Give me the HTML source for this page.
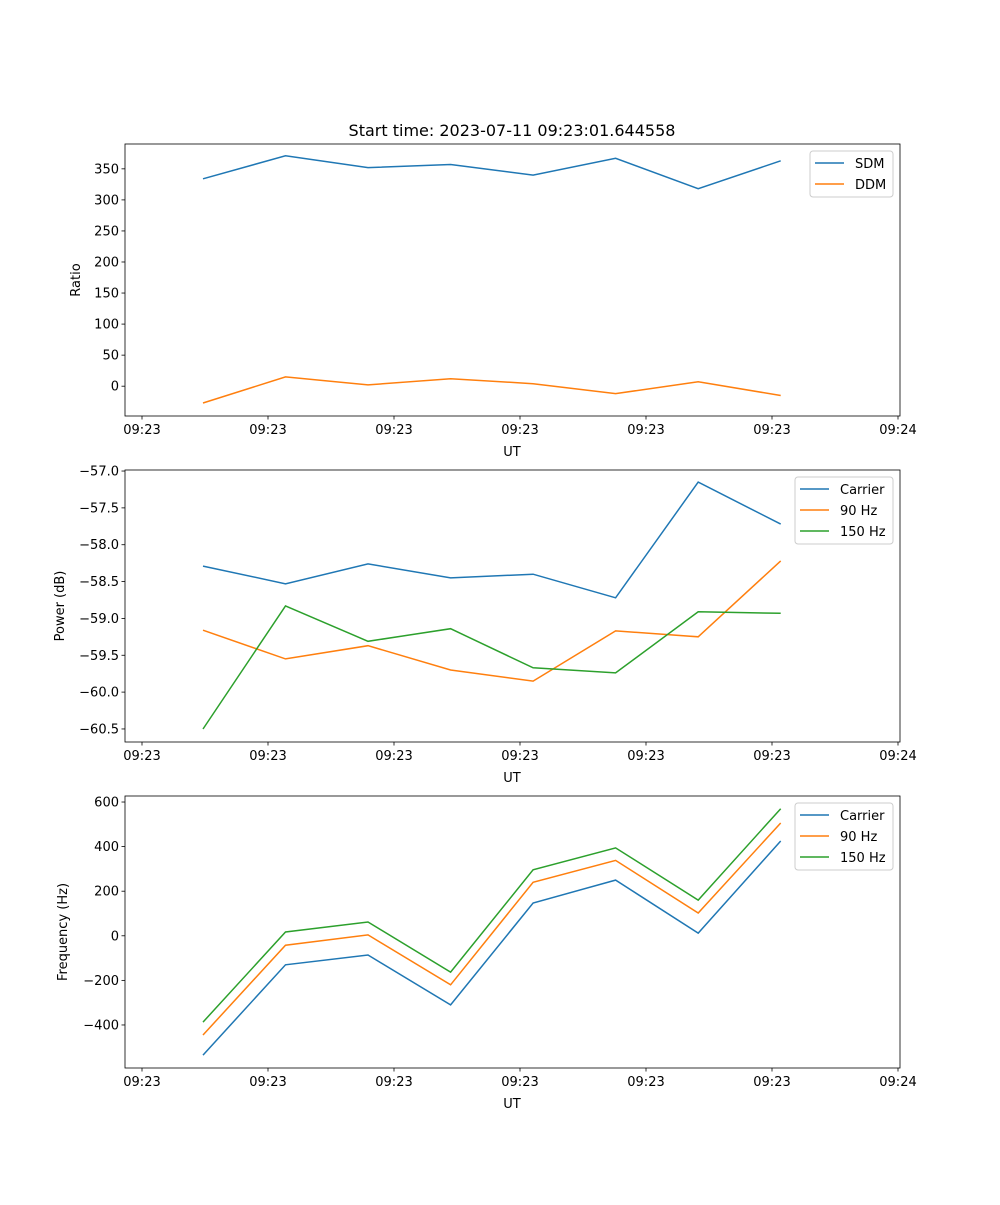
<!DOCTYPE html>
<html><head><meta charset="utf-8"><style>
body{margin:0;background:#fff}
svg text{font-family:"DejaVu Sans","Liberation Sans",sans-serif;fill:#000}
</style></head><body>
<svg id="fig" width="1000" height="1200" viewBox="0 0 1000 1200" xmlns="http://www.w3.org/2000/svg">
<rect width="1000" height="1200" fill="#fff"/>
<text x="512" y="136" font-size="16" text-anchor="middle">Start time: 2023-07-11 09:23:01.644558</text>
</svg>
<script>
const sampleTimes = [4.84, 11.39, 17.94, 24.49, 31.04, 37.59, 44.14, 50.69];
const tickTimes = [0, 10, 20, 30, 40, 50, 60];
const tickLabels = ['09:23','09:23','09:23','09:23','09:23','09:23','09:24'];
const sdm = [334, 371, 352, 357, 340, 367, 318, 363];
const ddm = [-27, 15, 2, 12, 4, -12, 7, -15];
const powCarrier = [-58.29, -58.53, -58.26, -58.45, -58.40, -58.72, -57.15, -57.72];
const pow90 = [-59.16, -59.55, -59.37, -59.70, -59.85, -59.17, -59.25, -58.22];
const pow150 = [-60.50, -58.83, -59.31, -59.14, -59.67, -59.74, -58.91, -58.93];
const freqCarrier = [-535, -130, -86, -310, 147, 250, 12, 425];
const freq90 = [-445, -42, 4, -220, 240, 338, 102, 506];
const freq150 = [-387, 17, 62, -163, 296, 394, 160, 570];
const ratioTicks = [0, 50, 100, 150, 200, 250, 300, 350];
const powerTicks = [-60.5, -60.0, -59.5, -59.0, -58.5, -58.0, -57.5, -57.0];
const freqTicks = [-400, -200, 0, 200, 400, 600];

const NS='http://www.w3.org/2000/svg';
const svg=document.getElementById('fig');
const C=['#1f77b4','#ff7f0e','#2ca02c'];
function mk(tag,attrs,parent){const e=document.createElementNS(NS,tag);for(const k in attrs)e.setAttribute(k,attrs[k]);(parent||svg).appendChild(e);return e;}
const L=125,R=900;
const xs=t=>142+(t-0)*(898-142)/60;

function panel(name,top,bot,ymin,ymax,yticks,fmt,ylabel,series,names,legend){
  const g=mk('g',{});
  
  
  const ys=v=>bot-(v-ymin)/(ymax-ymin)*(bot-top);
  series.forEach((s,si)=>{
    const p=mk('polyline',{points:s.map((v,i)=>xs(sampleTimes[i]).toFixed(1)+','+ys(v).toFixed(1)).join(' '),fill:'none',stroke:C[si],'stroke-width':1.5},g);
    
    
  });
  const f=mk('rect',{x:L,y:top,width:R-L,height:bot-top,fill:'none',stroke:'#000','stroke-width':0.8},g);
  
  
  tickTimes.forEach((t,i)=>{
    const x=xs(t);
    mk('line',{x1:x,x2:x,y1:bot,y2:bot+3.5,stroke:'#000','stroke-width':0.8},g);
    const tx=mk('text',{x:x,y:bot+18,'font-size':13,'text-anchor':'middle'},g);
    tx.textContent=tickLabels[i];
    
    
  });
  const xl=mk('text',{x:512,y:bot+40,'font-size':13,'text-anchor':'middle'},g);
  xl.textContent='UT';
  
  
  yticks.forEach(v=>{
    const y=ys(v);
    mk('line',{x1:L-3.5,x2:L,y1:y,y2:y,stroke:'#000','stroke-width':0.8},g);
    const tx=mk('text',{x:L-6,y:y+4.5,'font-size':13,'text-anchor':'end'},g);
    tx.textContent=fmt(v);
    
    
  });
  const yl=mk('text',{x:0,y:0,'font-size':13,'text-anchor':'middle',transform:`translate(${legend.ylx},${(top+bot)/2}) rotate(-90)`},g);
  yl.textContent=ylabel;
  
  
  const lg=mk('g',{},g);
  
  
  mk('rect',{x:legend.x,y:top+7,width:893-legend.x,height:names.length*21+4,rx:3,fill:'#fff','fill-opacity':0.8,stroke:'#ccc','stroke-width':1},lg);
  names.forEach((n,i)=>{
    const y=top+19+i*21;
    mk('line',{x1:legend.x+5,x2:legend.x+34,y1:y,y2:y,stroke:C[i],'stroke-width':1.5},lg);
    const tx=mk('text',{x:legend.x+45,y:y+5,'font-size':13},lg);
    tx.textContent=n;
    
    
  });
}
panel('ratio',144,416,-48,390,ratioTicks,v=>String(v),'Ratio',[sdm,ddm],['SDM','DDM'],{x:810,ylx:80});
panel('power',470,742,-60.677,-56.986,powerTicks,v=>'\u2212'+Math.abs(v).toFixed(1),'Power (dB)',[powCarrier,pow90,pow150],['Carrier','90 Hz','150 Hz'],{x:795,ylx:64});
panel('frequency',796,1068,-593,627,freqTicks,v=>(v<0?'\u2212':'')+Math.abs(v),'Frequency (Hz)',[freqCarrier,freq90,freq150],['Carrier','90 Hz','150 Hz'],{x:795,ylx:67});
</script>
</body></html>
